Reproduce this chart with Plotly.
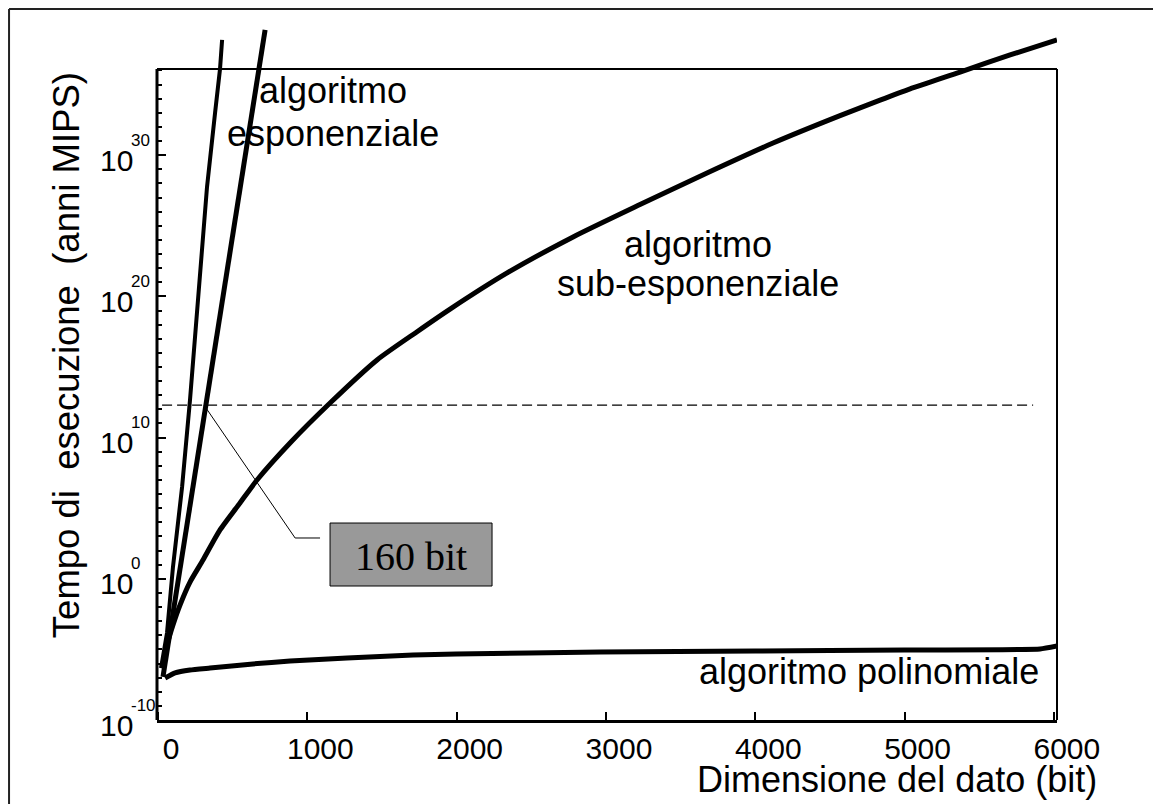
import plotly.graph_objects as go

# ---------------- data (x: bits, y: log10 of execution time in MIPS-years) ----------------
STEEP_X = [20, 60, 100, 161, 214, 281, 328, 382, 415, 429]
STEEP_LOG = [-6.32, -3.84, 0.84, 6.5, 12.66, 22.08, 27.75, 33.0, 36.1, 38.16]

EXP_X = [33, 717]
EXP_LOG = [-6.95, 38.87]

SUBEXP_X = [27, 60, 100, 147, 214, 301, 415, 549, 663, 884, 1152, 1467, 1735, 1956,
            2338, 2780, 3228, 3677, 4119, 4568, 4836, 5037, 5372, 5707, 6021]
SUBEXP_LOG = [-6.25, -4.69, -3.27, -1.86, -0.23, 1.33, 3.46, 5.37, 7.0, 9.62, 12.45, 15.5,
              17.5, 19.1, 21.66, 24.21, 26.5, 28.74, 30.86, 32.8, 33.9, 34.7, 35.89, 37.1, 38.16]

POLY_X = [47, 114, 214, 348, 636, 884, 1266, 1708, 1996, 2961, 4000, 5000, 5908, 6021]
POLY_LOG = [-7.03, -6.67, -6.46, -6.32, -6.03, -5.82, -5.61, -5.40, -5.33, -5.18, -5.11,
            -5.04, -4.97, -4.76]

DASH_X = [27, 5861]
DASH_LOG = [12.3, 12.3]

CALLOUT_X = [308, 918, 1085]
CALLOUT_LOG = [12.3, 2.89, 2.89]

BOX_X = [1152, 2237]
BOX_LOG = [-0.51, 3.95]
BOX_TEXT = "160 bit"
BOX_TEXT_POS = (1695, 1.61)

X_TICKS = [0, 1000, 2000, 3000, 4000, 5000, 6000]
Y_TICK_EXP = [-10, 0, 10, 20, 30]
Y_MINOR_EXP = [e for e in range(-10, 37) if e not in Y_TICK_EXP]

LABELS = [
    ("algoritmo", 1172, 34.6),
    ("esponenziale", 1172, 31.57),
    ("algoritmo", 3617, 23.64),
    ("sub-esponenziale", 3617, 20.88),
    ("algoritmo polinomiale", 4762, -6.53),
]

X_TITLE = "Dimensione del dato (bit)"
Y_TITLE = "Tempo di\u00a0 esecuzione\u00a0 (anni MIPS)"

X_MIN, X_MAX = -7, 6021
Y_MIN, Y_MAX, Y_FRAME_TOP = -10, 39.22, 36.1

SANS = "Liberation Sans, Arial, sans-serif"
SERIF = "Liberation Serif, Times New Roman, serif"


def lin(v):
    return [10.0 ** e for e in v]


fig = go.Figure()

fig.add_trace(go.Scatter(x=DASH_X, y=lin(DASH_LOG), mode="lines",
                         line=dict(color="black", width=1.2, dash="10px,5px")))
fig.add_trace(go.Scatter(x=STEEP_X, y=lin(STEEP_LOG), mode="lines",
                         line=dict(color="black", width=4)))
fig.add_trace(go.Scatter(x=EXP_X, y=lin(EXP_LOG), mode="lines",
                         line=dict(color="black", width=5)))
fig.add_trace(go.Scatter(x=SUBEXP_X, y=lin(SUBEXP_LOG), mode="lines",
                         line=dict(color="black", width=5, shape="spline", smoothing=0.6)))
fig.add_trace(go.Scatter(x=POLY_X, y=lin(POLY_LOG), mode="lines",
                         line=dict(color="black", width=5, shape="spline", smoothing=0.4)))
fig.add_trace(go.Scatter(x=CALLOUT_X, y=lin(CALLOUT_LOG), mode="lines",
                         line=dict(color="black", width=1)))

bx = [BOX_X[0], BOX_X[1], BOX_X[1], BOX_X[0], BOX_X[0]]
by = lin([BOX_LOG[0], BOX_LOG[0], BOX_LOG[1], BOX_LOG[1], BOX_LOG[0]])
fig.add_trace(go.Scatter(x=bx, y=by, mode="lines", fill="toself", fillcolor="#999999",
                         line=dict(color="black", width=1)))

annotations = []
for text, x, y in LABELS:
    annotations.append(dict(text=text, x=x, y=y, xref="x", yref="y", showarrow=False,
                            xanchor="center", yanchor="middle",
                            font=dict(family=SANS, size=36, color="black")))
annotations.append(dict(text=BOX_TEXT, x=BOX_TEXT_POS[0], y=BOX_TEXT_POS[1], xref="x", yref="y",
                        showarrow=False, xanchor="center", yanchor="middle",
                        font=dict(family=SERIF, size=40, color="black")))
annotations.append(dict(text=X_TITLE, x=1.0467, y=-0.085, xref="paper", yref="paper",
                        showarrow=False, xanchor="right", yanchor="middle",
                        font=dict(family=SANS, size=36, color="black")))
annotations.append(dict(text=Y_TITLE, x=-0.1011, y=0.525, xref="paper", yref="paper",
                        showarrow=False, xanchor="center", yanchor="middle", textangle=-90,
                        font=dict(family=SANS, size=36.5, color="black")))

# y tick labels: base "10" plus a small raised exponent, drawn at each major tick
for e in Y_TICK_EXP:
    annotations.append(dict(text="10", x=0, y=e, xref="paper", yref="y", showarrow=False,
                            xanchor="right", yanchor="middle", xshift=-22, yshift=-5,
                            font=dict(family=SANS, size=30, color="black")))
    annotations.append(dict(text=str(e), x=0, y=e, xref="paper", yref="y", showarrow=False,
                            xanchor="left", yanchor="middle", xshift=-28, yshift=15,
                            font=dict(family=SANS, size=17, color="black")))

frame_top = (Y_FRAME_TOP - Y_MIN) / (Y_MAX - Y_MIN)
shapes = [
    dict(type="line", xref="paper", yref="paper", x0=0, x1=0, y0=0, y1=frame_top,
         line=dict(color="black", width=3)),
    dict(type="line", xref="paper", yref="paper", x0=0, x1=1, y0=frame_top, y1=frame_top,
         line=dict(color="black", width=2)),
    dict(type="line", xref="paper", yref="paper", x0=1, x1=1, y0=0, y1=frame_top,
         line=dict(color="black", width=2)),
    # outer border of the picture
    dict(type="line", xref="paper", yref="paper", x0=-0.1644, x1=-0.1644, y0=-0.13, y1=1.023,
         line=dict(color="#222222", width=2)),
    dict(type="line", xref="paper", yref="paper", x0=-0.1644, x1=1.12, y0=1.023, y1=1.023,
         line=dict(color="#222222", width=2)),
]

fig.update_xaxes(range=[X_MIN, X_MAX], tickvals=X_TICKS, ticktext=[str(v) for v in X_TICKS],
                 ticks="inside", ticklen=8, tickwidth=2, tickcolor="black",
                 showline=True, linewidth=3, linecolor="black", mirror=False,
                 showgrid=False, zeroline=False, ticklabelshift=13, ticklabelstandoff=0,
                 tickfont=dict(family=SANS, size=30, color="black"))
fig.update_yaxes(type="log", range=[Y_MIN, Y_MAX], tickvals=lin(Y_TICK_EXP),
                 showticklabels=False,
                 ticks="inside", ticklen=9, tickwidth=2, tickcolor="black",
                 showline=False, showgrid=False, zeroline=False,
                 minor=dict(tickmode="array", tickvals=lin(Y_MINOR_EXP), ticks="inside",
                            ticklen=5, tickwidth=2, tickcolor="black", showgrid=False))

# the page body has an 8px margin, so the figure is shifted to land on the reference grid
fig.update_layout(width=1153, height=796, margin=dict(l=149, r=104, t=17, b=84),
                  plot_bgcolor="white", paper_bgcolor="white", showlegend=False,
                  annotations=annotations, shapes=shapes)

fig.write_html("out.html")
